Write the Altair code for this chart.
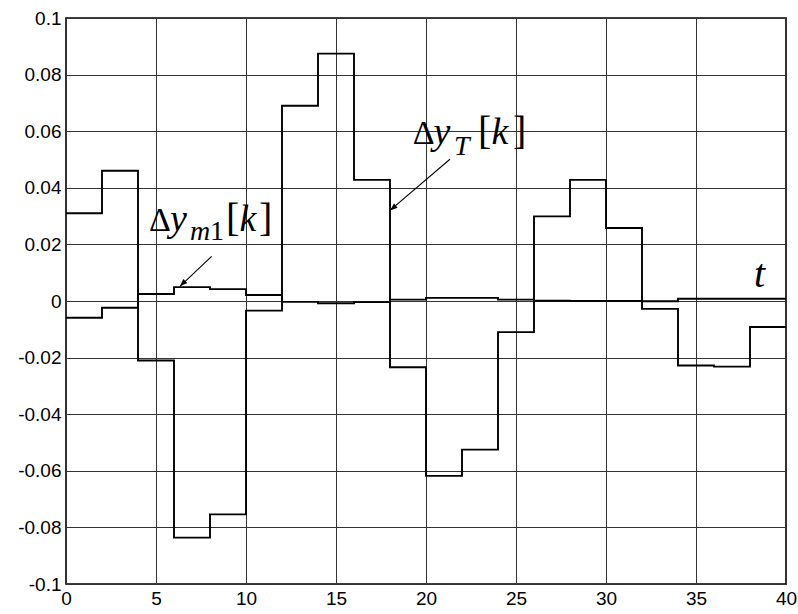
import altair as alt
import pandas as pd

# ---- data ----
k_steps = list(range(0, 40, 2))
dy_T = [0.031, 0.046, -0.021, -0.0836, -0.0754, -0.0034, 0.069, 0.0874, 0.0428, -0.0234,
        -0.0618, -0.0525, -0.011, 0.0299, 0.0428, 0.0258, -0.0028, -0.0228, -0.0232, -0.0092]
dy_m1 = [-0.0059, -0.0024, 0.0025, 0.0049, 0.0042, 0.0021, -0.0003, -0.0008, -0.0004, 0.0005,
         0.0011, 0.0011, 0.0005, 0.0001, 0.0, 0.0, -0.0001, 0.0008, 0.0008, 0.0008]
t_end = 40
x_ticks = [0, 5, 10, 15, 20, 25, 30, 35, 40]
y_ticks = [-0.1, -0.08, -0.06, -0.04, -0.02, 0, 0.02, 0.04, 0.06, 0.08, 0.1]


def step_frame(vals, name):
    rows = [{"t": t, "v": v, "s": name} for t, v in zip(k_steps, vals)]
    rows.append({"t": t_end, "v": vals[-1], "s": name})
    return rows


steps = pd.DataFrame(step_frame(dy_T, "T") + step_frame(dy_m1, "m1"))

xs = alt.Scale(domain=[0, 40], nice=False, zero=False)
ys = alt.Scale(domain=[-0.1, 0.1], nice=False, zero=False)

label_expr = "datum.value < 0 ? '-' + format(-datum.value, '~g') : format(datum.value, '~g')"
axis_common = dict(title=None, grid=True, ticks=False, labelPadding=5, labelFontSize=19,
                   labelFont="Liberation Sans", labelColor="black", domain=False,
                   gridColor="#333", gridOpacity=1, gridWidth=1)

base_lines = alt.Chart(steps).mark_line(
    interpolate="step-after", color="black", strokeWidth=1.9
).encode(
    x=alt.X("t:Q", scale=xs, axis=alt.Axis(values=x_ticks, labelFlush=False, **axis_common)),
    y=alt.Y("v:Q", scale=ys, axis=alt.Axis(values=y_ticks, labelExpr=label_expr, **axis_common)),
    detail="s:N",
)

# ---- annotation glyphs ----
glyphs = pd.DataFrame([
    # Δy_m1[k]
    {"x": 4.61, "y": 0.0249, "txt": "Δ", "size": 34, "style": "normal"},
    {"x": 5.78, "y": 0.0249, "txt": "y", "size": 38, "style": "italic"},
    {"x": 6.89, "y": 0.0217, "txt": "m", "size": 28, "style": "italic"},
    {"x": 8.0, "y": 0.0217, "txt": "1", "size": 28, "style": "normal"},
    {"x": 8.89, "y": 0.0249, "txt": "[", "size": 40, "style": "normal"},
    {"x": 9.64, "y": 0.0249, "txt": "k", "size": 38, "style": "italic"},
    {"x": 10.72, "y": 0.0249, "txt": "]", "size": 40, "style": "normal"},
    # Δy_T[k]
    {"x": 19.26, "y": 0.0554, "txt": "Δ", "size": 34, "style": "normal"},
    {"x": 20.42, "y": 0.0554, "txt": "y", "size": 38, "style": "italic"},
    {"x": 21.56, "y": 0.0517, "txt": "T", "size": 28, "style": "italic"},
    {"x": 22.89, "y": 0.0554, "txt": "[", "size": 40, "style": "normal"},
    {"x": 23.64, "y": 0.0554, "txt": "k", "size": 38, "style": "italic"},
    {"x": 24.83, "y": 0.0554, "txt": "]", "size": 40, "style": "normal"},
    # t
    {"x": 38.22, "y": 0.0051, "txt": "t", "size": 40, "style": "italic"},
])

text_layers = []
for (size, style), g in glyphs.groupby(["size", "style"]):
    text_layers.append(
        alt.Chart(g).mark_text(align="left", baseline="alphabetic", font="Liberation Serif",
                               fontSize=int(size), fontStyle=style, color="black")
        .encode(x=alt.X("x:Q", scale=xs), y=alt.Y("y:Q", scale=ys), text="txt:N")
    )

arrows = pd.DataFrame([
    {"x": 8.09, "y": 0.0158, "x2": 6.33, "y2": 0.0052, "ang": 225},
    {"x": 21.33, "y": 0.0501, "x2": 18.0, "y2": 0.032, "ang": 230},
])

arrow_lines = alt.Chart(arrows).mark_rule(color="black", strokeWidth=1.1).encode(
    x=alt.X("x:Q", scale=xs), y=alt.Y("y:Q", scale=ys), x2="x2:Q", y2="y2:Q"
)
arrow_heads = alt.Chart(arrows).mark_point(
    shape="M0,0 L-0.45,1.2 L0.45,1.2 Z", filled=True, color="black", opacity=1, size=160
).encode(
    x=alt.X("x2:Q", scale=xs), y=alt.Y("y2:Q", scale=ys), angle=alt.Angle("ang:Q", scale=None)
)

chart = alt.layer(base_lines, arrow_lines, arrow_heads, *text_layers).properties(
    width=720, height=566,
    autosize=alt.AutoSizeParams(type="none"),
    padding={"left": 66, "top": 18, "right": 12, "bottom": 30},
    background="white",
).configure_view(stroke="black", strokeWidth=1.6)

chart.save("out.html", embed_options={"renderer": "svg", "actions": False})
